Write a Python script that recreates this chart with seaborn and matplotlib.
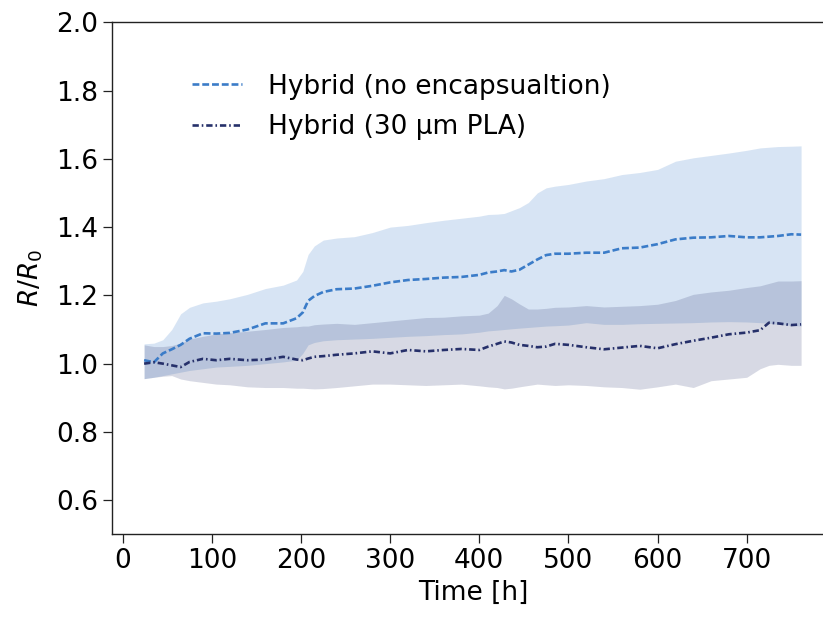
import numpy as np
import pandas as pd
import matplotlib
matplotlib.use("Agg")
import matplotlib.pyplot as plt
import seaborn as sns

# ---- data ----
time_h = [24, 35, 45, 55, 65, 75, 90, 105, 120, 140, 160, 180, 195, 202, 208, 215, 225, 240,
          260, 280, 300, 320, 340, 360, 380, 400, 410, 420, 428, 436, 445, 455, 465, 475, 485,
          500, 520, 540, 560, 580, 600, 620, 640, 660, 680, 700, 715, 725, 735, 750, 761]

mean_noenc = [1.01, 1.004, 1.03, 1.042, 1.055, 1.073, 1.089, 1.088, 1.09, 1.10, 1.118, 1.118,
              1.133, 1.15, 1.184, 1.198, 1.21, 1.218, 1.22, 1.228, 1.238, 1.245, 1.248, 1.252,
              1.254, 1.26, 1.267, 1.27, 1.274, 1.27, 1.275, 1.29, 1.305, 1.318, 1.322, 1.322,
              1.325, 1.325, 1.338, 1.34, 1.35, 1.364, 1.369, 1.37, 1.374, 1.37, 1.37, 1.372,
              1.374, 1.379, 1.378]
upper_noenc = [1.058, 1.06, 1.07, 1.10, 1.146, 1.165, 1.178, 1.183, 1.19, 1.203, 1.22, 1.23,
               1.245, 1.27, 1.32, 1.345, 1.362, 1.368, 1.372, 1.384, 1.40, 1.405, 1.413, 1.42,
               1.426, 1.432, 1.437, 1.438, 1.44, 1.448, 1.457, 1.472, 1.50, 1.515, 1.52, 1.525,
               1.535, 1.542, 1.554, 1.56, 1.569, 1.593, 1.603, 1.61, 1.617, 1.625, 1.632, 1.634,
               1.636, 1.637, 1.638]
lower_noenc = [0.956, 0.96, 0.965, 0.97, 0.975, 0.98, 0.985, 0.99, 0.992, 0.995, 1.0, 1.005,
               1.01, 1.03, 1.055, 1.062, 1.067, 1.07, 1.072, 1.074, 1.077, 1.08, 1.082, 1.085,
               1.087, 1.092, 1.096, 1.098, 1.10, 1.102, 1.104, 1.106, 1.108, 1.11, 1.111, 1.113,
               1.12, 1.115, 1.115, 1.117, 1.118, 1.119, 1.12, 1.122, 1.123, 1.122, 1.12, 1.118,
               1.115, 1.112, 1.11]

mean_pla = [1.0, 1.004, 1.0, 0.995, 0.99, 1.005, 1.014, 1.01, 1.014, 1.01, 1.012, 1.02, 1.012,
            1.01, 1.015, 1.02, 1.022, 1.026, 1.03, 1.036, 1.03, 1.04, 1.036, 1.04, 1.043, 1.04,
            1.05, 1.058, 1.065, 1.062, 1.055, 1.052, 1.048, 1.05, 1.058, 1.055, 1.048, 1.042,
            1.047, 1.052, 1.045, 1.057, 1.067, 1.076, 1.086, 1.091, 1.098, 1.12, 1.118, 1.113,
            1.115]
upper_pla = [1.055, 1.05, 1.05, 1.053, 1.06, 1.072, 1.08, 1.087, 1.09, 1.095, 1.10, 1.106,
             1.108, 1.11, 1.11, 1.114, 1.116, 1.118, 1.115, 1.12, 1.125, 1.13, 1.135, 1.136,
             1.14, 1.142, 1.148, 1.17, 1.20, 1.19, 1.175, 1.16, 1.16, 1.162, 1.165, 1.166, 1.17,
             1.166, 1.168, 1.17, 1.174, 1.185, 1.203, 1.21, 1.215, 1.223, 1.228, 1.235, 1.242,
             1.242, 1.243]
lower_pla = [0.956, 0.96, 0.963, 0.965, 0.955, 0.95, 0.945, 0.94, 0.938, 0.932, 0.93, 0.93,
             0.928, 0.928, 0.927, 0.926, 0.927, 0.93, 0.935, 0.94, 0.94, 0.938, 0.936, 0.938,
             0.94, 0.935, 0.932, 0.93, 0.926, 0.928, 0.932, 0.936, 0.94, 0.938, 0.936, 0.938,
             0.936, 0.932, 0.93, 0.925, 0.932, 0.94, 0.93, 0.95, 0.955, 0.96, 0.985, 0.995,
             0.998, 0.995, 0.995]

label_noenc = "Hybrid (no encapsualtion)"
label_pla = "Hybrid (30 µm PLA)"
x_ticks = [0, 100, 200, 300, 400, 500, 600, 700]
y_ticks = [0.6, 0.8, 1.0, 1.2, 1.4, 1.6, 1.8, 2.0]

# ---- style ----
sns.set_style("ticks")
plt.rcParams['font.family'] = ['DejaVu Sans']
plt.rcParams['mathtext.fontset'] = 'dejavusans'
FS = 19

c_noenc = "#3b7cc8"
c_pla = "#26306a"

W, H = 823, 619
fig = plt.figure(figsize=(W / 100, H / 100), dpi=100)
ax_left, ax_right, ax_top, ax_bottom = 111.7, 834.0, 22.3, 534.3
ax = fig.add_axes([ax_left / W, 1 - ax_bottom / H, (ax_right - ax_left) / W, (ax_bottom - ax_top) / H])

df = pd.DataFrame({"t": time_h, "m1": mean_noenc, "m2": mean_pla})

ax.fill_between(time_h, lower_noenc, upper_noenc, color=c_noenc, alpha=0.2, linewidth=0)
ax.fill_between(time_h, lower_pla, upper_pla, color=c_pla, alpha=0.18, linewidth=0)

sns.lineplot(data=df, x="t", y="m1", ax=ax, color=c_noenc, linestyle=(0, (2.6, 1.1)),
             linewidth=1.9, label=label_noenc)
sns.lineplot(data=df, x="t", y="m2", ax=ax, color=c_pla, linestyle=(0, (2.4, 1.1, 0.6, 1.1)),
             linewidth=1.9, label=label_pla)

ax.set_xlim(-12.34, 797.9)
ax.set_ylim(0.5, 2.0)
ax.set_xticks(x_ticks)
ax.set_yticks(y_ticks)
ax.set_xticklabels([str(v) for v in x_ticks])
ax.set_yticklabels([f"{v:.1f}" for v in y_ticks])
ax.tick_params(axis="both", labelsize=FS, length=6.5, width=0.9, colors="#222222", labelcolor="black")
for s in ax.spines.values():
    s.set_linewidth(1.0)
    s.set_color("#222222")

ax.set_xlabel("Time [h]", fontsize=FS, color="black")
ax.set_ylabel("$R/R_0$", fontsize=FS, color="black", labelpad=8)

leg = ax.legend(loc="upper left", bbox_to_anchor=(181.0 / W, 1 - 63.0 / H),
                bbox_transform=fig.transFigure, frameon=False, fontsize=FS,
                handlelength=1.9, handletextpad=1.0, labelspacing=0.55, borderaxespad=0.0)
for t in leg.get_texts():
    t.set_color("black")

fig.savefig("out.png", dpi=100)
